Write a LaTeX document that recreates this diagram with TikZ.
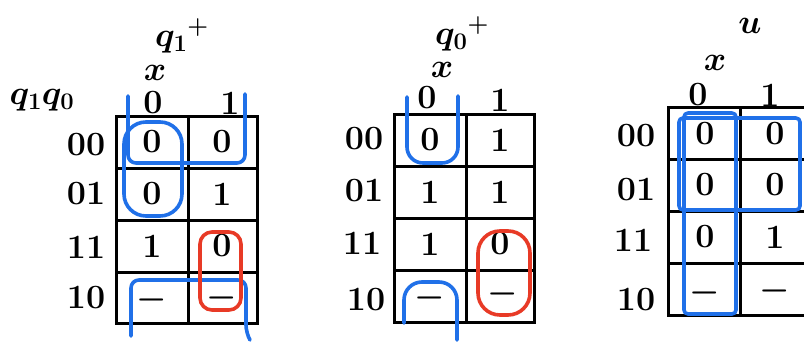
\RequirePackage{fix-cm}
\documentclass[tikz,border=0pt]{standalone}
\usepackage{amsmath}
\usepackage{tikz}
\usetikzlibrary{calc}
\usepackage{xcolor}
\definecolor{penblue}{RGB}{32,112,232}
\definecolor{penred}{RGB}{232,58,38}
\newcommand{\kfont}{\fontsize{34}{38}\selectfont\bfseries}
\newcommand{\dc}{$\boldsymbol{-}$}
\tikzset{
  kgrid/.style={line width=3pt,black},
  bluepen/.style={line width=3.6pt,penblue,line cap=round,line join=round},
  redpen/.style={line width=3.6pt,penred,line cap=round,line join=round},
  entry/.style={font=\kfont,inner sep=0pt},
}

\begin{document}
\begin{tikzpicture}[x=1pt,y=-1pt]
\clip (0,0) rectangle (804,343);
\fill[white] (0,0) rectangle (804,343);
% variable label on the left
\node[entry] (vars) at (42,100) {$\boldsymbol{q_1q_0}$};
% map for q1+
\draw[kgrid] (116,116) rectangle (257,323);
\draw[kgrid] (188,116) -- (188,323);
\draw[kgrid] (116,168) -- (257,168);
\draw[kgrid] (116,220) -- (257,220);
\draw[kgrid] (116,272) -- (257,272);
\node[entry] (ta) at (182,36) {$\boldsymbol{q_1{}^+}$};
\node[entry] (xa) at (155,73) {$\boldsymbol{x}$};
\node[entry] (ca0) at (153,103) {0};
\node[entry] (ca1) at (230,103) {1};
\node[entry] (ra00) at (86,145) {00};
\node[entry] (ra01) at (86,194) {01};
\node[entry] (ra11) at (86,247) {11};
\node[entry] (ra10) at (86,298) {10};
\node[entry] (a00) at (152,142) {0};
\node[entry] (a01) at (222,142) {0};
\node[entry] (a10) at (152,194) {0};
\node[entry] (a11) at (222,194) {1};
\node[entry] (a20) at (152,246) {1};
\node[entry] (a21) at (222,246) {0};
\node[entry] (a30) at (152,300) {\dc};
\node[entry] (a31) at (222,298) {\dc};
\draw[bluepen,rounded corners=22pt] (124,122) rectangle (182,216);
\draw[bluepen,rounded corners=8pt] (128,96) -- (128,163) -- (245,163) -- (245,94);
\draw[bluepen,rounded corners=8pt] (131,336) -- (131,280) -- (246,280) -- (246,333) -- (250,340);
\draw[redpen,rounded corners=12pt] (200,232) rectangle (241,310);
% map for q0+
\draw[kgrid] (394,114) rectangle (534,322);
\draw[kgrid] (466,114) -- (466,322);
\draw[kgrid] (394,166) -- (534,166);
\draw[kgrid] (394,218) -- (534,218);
\draw[kgrid] (394,270) -- (534,270);
\node[entry] (tb) at (462,34) {$\boldsymbol{q_0{}^+}$};
\node[entry] (xb) at (442,70) {$\boldsymbol{x}$};
\node[entry] (cb0) at (427,98) {0};
\node[entry] (cb1) at (500,100) {1};
\node[entry] (rb00) at (364,139) {00};
\node[entry] (rb01) at (364,191) {01};
\node[entry] (rb11) at (362,243) {11};
\node[entry] (rb10) at (366,300) {10};
\node[entry] (b00) at (430,140) {0};
\node[entry] (b01) at (500,140) {1};
\node[entry] (b10) at (430,192) {1};
\node[entry] (b11) at (500,192) {1};
\node[entry] (b20) at (430,244) {1};
\node[entry] (b21) at (500,244) {0};
\node[entry] (b30) at (430,298) {\dc};
\node[entry] (b31) at (503,294) {\dc};
\draw[bluepen,rounded corners=16pt] (407,97) -- (407,163) -- (458,163) -- (458,96);
\draw[bluepen,rounded corners=18pt] (404,323) -- (404,282) -- (457,282) -- (457,340);
\draw[redpen,rounded corners=22pt] (478,231) rectangle (530,315);
% map for u
\draw[kgrid] (668,107) rectangle (812,315);
\draw[kgrid] (740,107) -- (740,315);
\draw[kgrid] (668,159) -- (812,159);
\draw[kgrid] (668,211) -- (812,211);
\draw[kgrid] (668,263) -- (812,263);
\node[entry] (tc) at (750,26) {$\boldsymbol{u}$};
\node[entry] (xc) at (715,63) {$\boldsymbol{x}$};
\node[entry] (cc0) at (698,95) {0};
\node[entry] (cc1) at (770,95) {1};
\node[entry] (rc00) at (636,136) {00};
\node[entry] (rc01) at (636,190) {01};
\node[entry] (rc11) at (633,240) {11};
\node[entry] (rc10) at (636,300) {10};
\node[entry] (c00) at (705,134) {0};
\node[entry] (c01) at (775,134) {0};
\node[entry] (c10) at (705,185) {0};
\node[entry] (c11) at (775,185) {0};
\node[entry] (c20) at (705,237) {0};
\node[entry] (c21) at (775,237) {1};
\node[entry] (c30) at (705,293) {\dc};
\node[entry] (c31) at (775,291) {\dc};
\draw[bluepen,rounded corners=4pt] (679,118) rectangle (800,210);
\draw[bluepen,rounded corners=4pt] (684,113) rectangle (736,314);
\end{tikzpicture}
\end{document}
